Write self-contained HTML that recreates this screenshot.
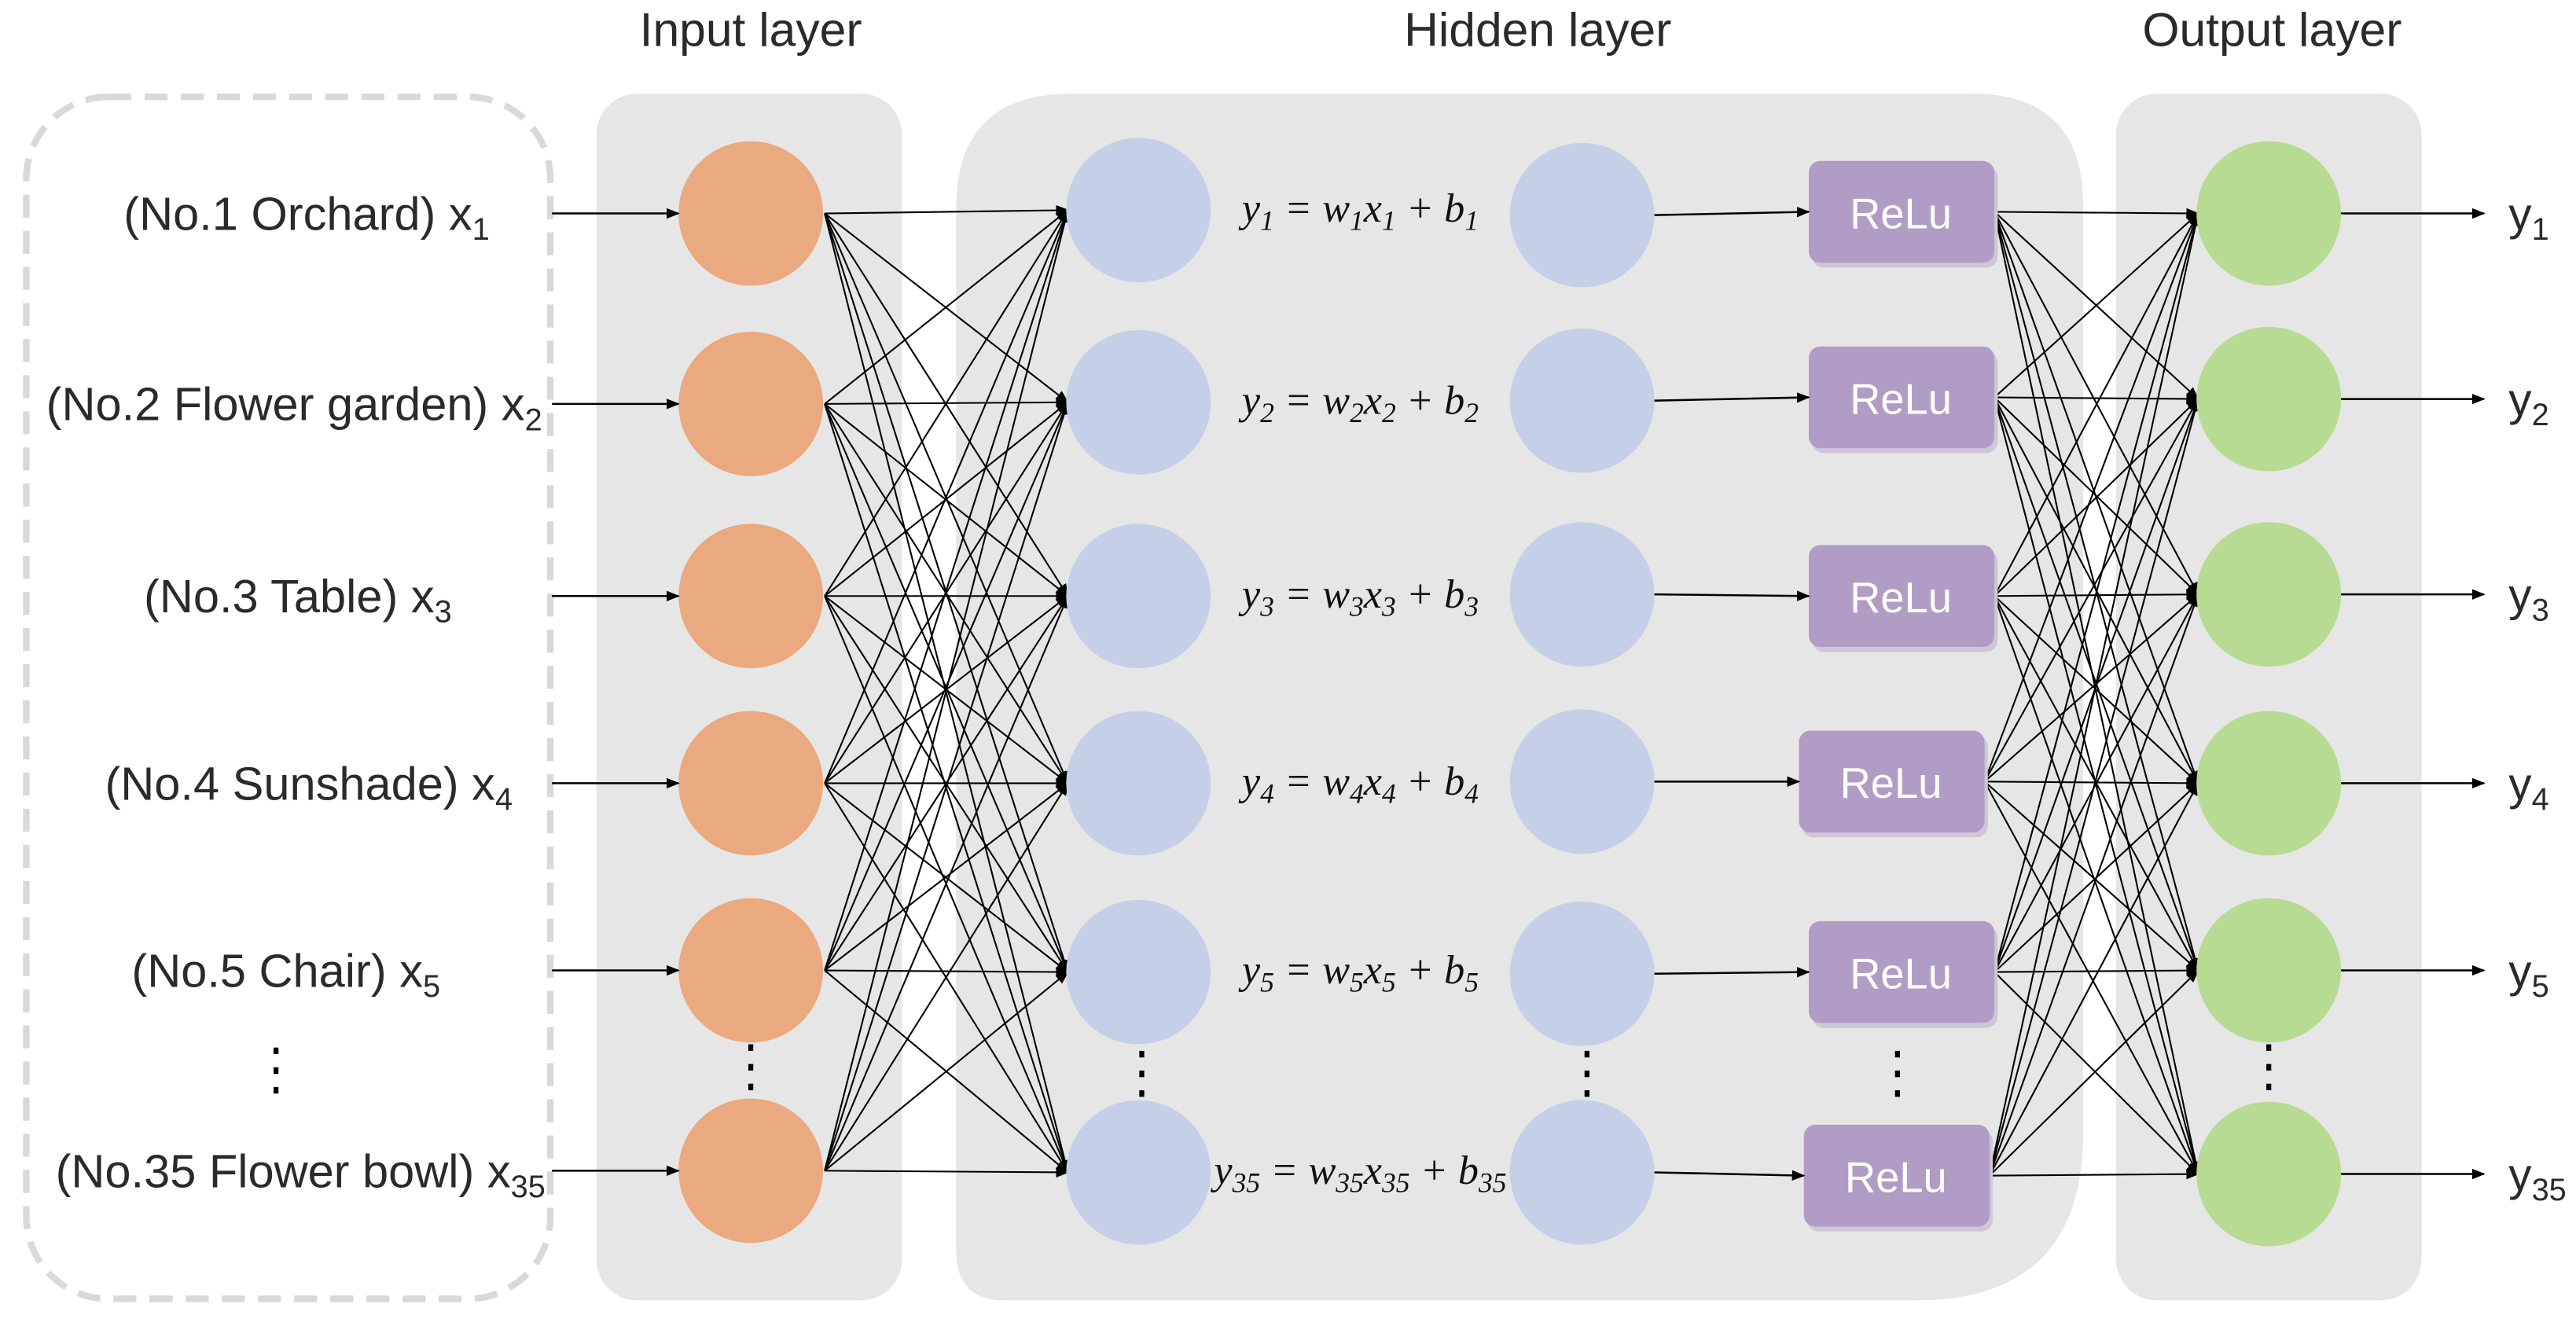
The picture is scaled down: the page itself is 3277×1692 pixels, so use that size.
<!DOCTYPE html>
<html><head><meta charset="utf-8"><style>
html,body{margin:0;padding:0;background:#fff;width:3277px;height:1692px;overflow:hidden}
svg{display:block}
.t{font-family:"Liberation Sans",sans-serif;fill:#2a2a2a}
.f{font-family:"Liberation Serif",serif;font-style:italic;fill:#111;font-size:25px}
.r{font-family:"Liberation Sans",sans-serif;fill:#fff;font-size:26px}
</style></head><body>
<svg id="s" width="3277" height="1692" viewBox="0 0 1568 810" preserveAspectRatio="none" xmlns="http://www.w3.org/2000/svg">
<defs>
<marker id="a" viewBox="0 0 10 10" refX="9" refY="5" markerWidth="8" markerHeight="8" orient="auto" markerUnits="userSpaceOnUse"><path d="M0,1 L10,5 L0,9 z" fill="#000"/></marker>
</defs>
<rect x="16" y="59" width="319" height="732" rx="50" fill="none" stroke="#d9d9d9" stroke-width="4" stroke-dasharray="14 8"/>
<rect x="363" y="57" width="186" height="735" rx="25" fill="#e6e6e6"/>
<path d="M652,57 H1200 Q1268,57 1268,125 V690 Q1268,792 1166,792 H612 Q582,792 582,762 V127 Q582,57 652,57 Z" fill="#e6e6e6"/>
<rect x="1288" y="57" width="186" height="735" rx="25" fill="#e6e6e6"/>
<text class="t" x="457" y="28" font-size="29" text-anchor="middle">Input layer</text>
<text class="t" x="936" y="28" font-size="29" text-anchor="middle">Hidden layer</text>
<text class="t" x="1383" y="28" font-size="29" text-anchor="middle">Output layer</text>
<g id="g"></g>
</svg>
<script>
const NS="http://www.w3.org/2000/svg",g=document.getElementById('g');
function el(t,a,txt){const e=document.createElementNS(NS,t);for(const k in a)e.setAttribute(k,a[k]);if(txt!==undefined)e.textContent=txt;g.appendChild(e);return e;}
const inY=[130,246,363,477,591,713],h1Y=[128,245,363,477,592,714],h2Y=[131,244,362,476,593,714],oY=[130,243,362,477,591,715];
const relu=[[1101,98],[1101,211],[1101,332],[1095,445],[1101,561],[1098,685]];
const labels=[["(No.1 Orchard) x","1",298],["(No.2 Flower garden) x","2",330],["(No.3 Table) x","3",275],["(No.4 Sunshade) x","4",312],["(No.5 Chair) x","5",268],["(No.35 Flower bowl) x","35",332]];
const subs=["1","2","3","4","5","35"];
for(let i=0;i<6;i++)for(let j=0;j<6;j++){
 el('line',{x1:502,y1:inY[i],x2:650,y2:h1Y[j],stroke:'#000','stroke-width':1,'marker-end':'url(#a)'});
 const rx=relu[i][0]+113, ry=relu[i][1]+31;
 el('line',{x1:rx,y1:ry,x2:1338,y2:oY[j],stroke:'#000','stroke-width':1,'marker-end':'url(#a)'});
}
for(let i=0;i<6;i++){
 el('circle',{cx:457,cy:inY[i],r:44,fill:'#eba97f'});
 el('circle',{cx:693,cy:h1Y[i],r:44,fill:'#c5d0e8'});
 el('circle',{cx:963,cy:h2Y[i],r:44,fill:'#c5d0e8'});
 el('circle',{cx:1381,cy:oY[i],r:44,fill:'#b7db92'});
 const [x,y]=relu[i];
 el('rect',{x:x+2,y:y+3,width:113,height:62,rx:7,fill:'#cfc6d8'});
 el('rect',{x:x,y:y,width:113,height:62,rx:7,fill:'#b19cc5'});
 el('text',{class:'r',x:x+56,y:y+41,'text-anchor':'middle'},'ReLu');
 el('line',{x1:336,y1:inY[i],x2:413,y2:inY[i],stroke:'#000','stroke-width':1.2,'marker-end':'url(#a)'});
 el('line',{x1:1007,y1:h2Y[i],x2:x,y2:y+31,stroke:'#000','stroke-width':1.2,'marker-end':'url(#a)'});
 el('line',{x1:1425,y1:oY[i],x2:1512,y2:oY[i],stroke:'#000','stroke-width':1.2,'marker-end':'url(#a)'});
 const L=labels[i];
 const t=el('text',{class:'t',x:L[2],y:inY[i]+10,'font-size':28.5,'text-anchor':'end'});
 t.innerHTML=L[0]+'<tspan font-size="19" dy="6">'+L[1]+'</tspan>';
 const yt=el('text',{class:'t',x:1527,y:oY[i]+10,'font-size':28});
 yt.innerHTML='y<tspan font-size="19" dy="6">'+subs[i]+'</tspan>';
 const s=subs[i];
 const f=el('text',{class:'f',x:828,y:h1Y[i]+7,'text-anchor':'middle'});
 f.innerHTML='y<tspan font-size="17" dy="5">'+s+'</tspan><tspan dy="-5"> = w</tspan><tspan font-size="17" dy="5">'+s+'</tspan><tspan dy="-5">x</tspan><tspan font-size="17" dy="5">'+s+'</tspan><tspan dy="-5"> + b</tspan><tspan font-size="17" dy="5">'+s+'</tspan>';
}
[[168,652],[457,650],[695,654],[966,654],[1155,654],[1381,650]].forEach(([x,y])=>{
 for(let k=-1;k<=1;k++)el('rect',{x:x-1.5,y:y+k*12-2,width:3,height:4,fill:'#000'});
});
</script>
</body></html>
